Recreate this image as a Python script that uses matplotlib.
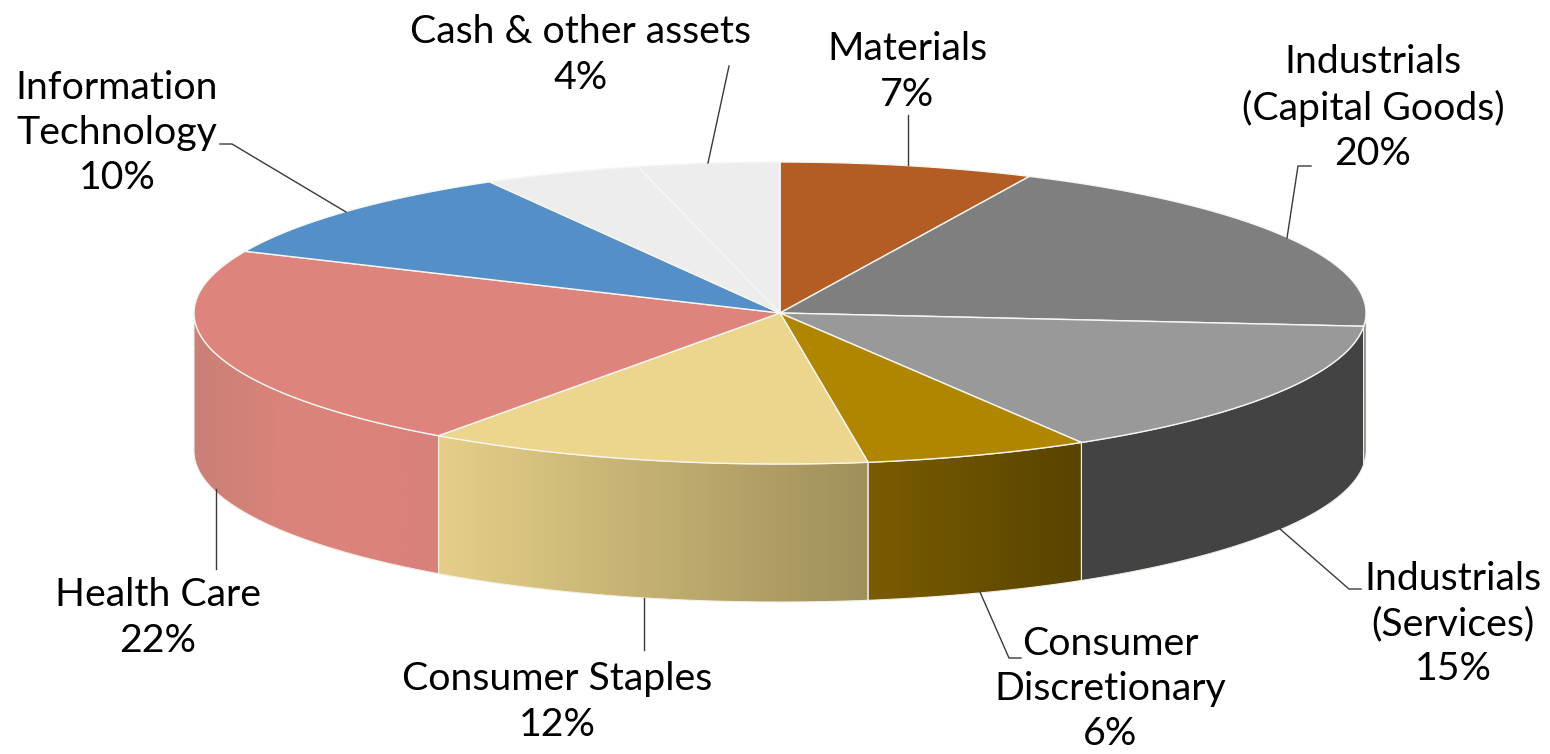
import numpy as np
import matplotlib
matplotlib.use("Agg")
import matplotlib.pyplot as plt
from matplotlib.colors import LinearSegmentedColormap
from matplotlib.patches import Polygon

# shares (the labels are rounded)
sectors = ["Materials", "Industrials (Capital Goods)", "Industrials (Services)",
           "Consumer Discretionary", "Consumer Staples", "Health Care",
           "Information Technology", "Cash", "Other assets"]
shares = [7.0, 19.4, 15.0, 6.2, 12.3, 21.8, 10.05, 4.35, 3.9]

labels = ["Materials\n7%", "Industrials\n(Capital Goods)\n20%", "Industrials\n(Services)\n15%",
          "Consumer\nDiscretionary\n6%", "Consumer Staples\n12%", "Health Care\n22%",
          "Information\nTechnology\n10%", "Cash & other assets\n4%"]
label_x = [907, 1373, 1453, 1110, 557, 158, 117, 581]
label_y = [72, 108, 624, 689, 702, 618, 133, 55]

top_colors = ["#B35C23", "#7F7F7F", "#999999", "#B08500", "#ECD58C", "#DE847C",
              "#548FC7", "#EDEDED", "#EDEDED"]
wall_colors = [None, ["#404040", "#404040"], ["#434343", "#434343"],
               ["#7A5C00", "#584400"], ["#E5CF88", "#9F8F5A"],
               ["#C98076", "#D9837A", "#DC837A", "#D8807A"], None, None, None]

leaders = [
    [(729, 66), (708, 163)],
    [(220, 144), (232, 144), (346, 212)],
    [(908, 115), (908, 165)],
    [(1311, 166), (1298, 166), (1287, 238)],
    [(1280, 529), (1349, 589), (1361, 589)],
    [(980, 592), (1009, 658), (1021, 658)],
    [(644, 598), (644, 650)],
    [(216, 489), (216, 569)],
]

cx, cy = 780, 313
rx, ry = 586, 151
depth = 138


def ellipse(theta, dy=0):
    # theta clockwise from 12 o'clock
    return cx + rx * np.sin(theta), cy + dy - ry * np.cos(theta)


fig = plt.figure(figsize=(15.5, 7.54), dpi=100)
ax = fig.add_axes([0, 0, 1, 1])

edges = np.radians(np.cumsum([0] + shares) * 3.6)

# side wall, only the front half shows
for i in range(len(shares)):
    a = max(edges[i], np.pi / 2)
    b = min(edges[i + 1], 3 * np.pi / 2)
    if a >= b or wall_colors[i] is None:
        continue
    t = np.linspace(a, b, 120)
    x1, y1 = ellipse(t)
    x2, y2 = ellipse(t[::-1], depth)
    pts = np.column_stack([np.r_[x1, x2], np.r_[y1, y2]])
    cmap = LinearSegmentedColormap.from_list("wall%d" % i, wall_colors[i])
    left, right = min(x1.min(), x2.min()), max(x1.max(), x2.max())
    img = ax.imshow(np.linspace(0, 1, 256).reshape(1, -1), cmap=cmap, aspect="auto",
                    extent=(left, right, y2.max(), y1.min()), zorder=1)
    img.set_clip_path(Polygon(pts, transform=ax.transData))
    ax.add_patch(Polygon(pts, closed=True, fill=False, ec="#F2EFE6", lw=0.8, zorder=2))

# top face
for i in range(len(shares)):
    t = np.linspace(edges[i], edges[i + 1], 150)
    x, y = ellipse(t)
    pts = np.column_stack([np.r_[cx, x], np.r_[cy, y]])
    ax.add_patch(Polygon(pts, closed=True, fc=top_colors[i], ec="#F7F7F2", lw=1.0, zorder=3))

for line in leaders:
    xs, ys = zip(*line)
    ax.plot(xs, ys, color="#3A3A3A", lw=1.0, zorder=4)

for text, x, y in zip(labels, label_x, label_y):
    ax.text(x, y, text, ha="center", va="center", multialignment="center",
            fontsize=28.3, family="Lato", color="black", linespacing=1.32, zorder=5)

ax.set_xlim(0, 1550)
ax.set_ylim(754, 0)
ax.axis("off")
fig.savefig("out.png", dpi=100)
